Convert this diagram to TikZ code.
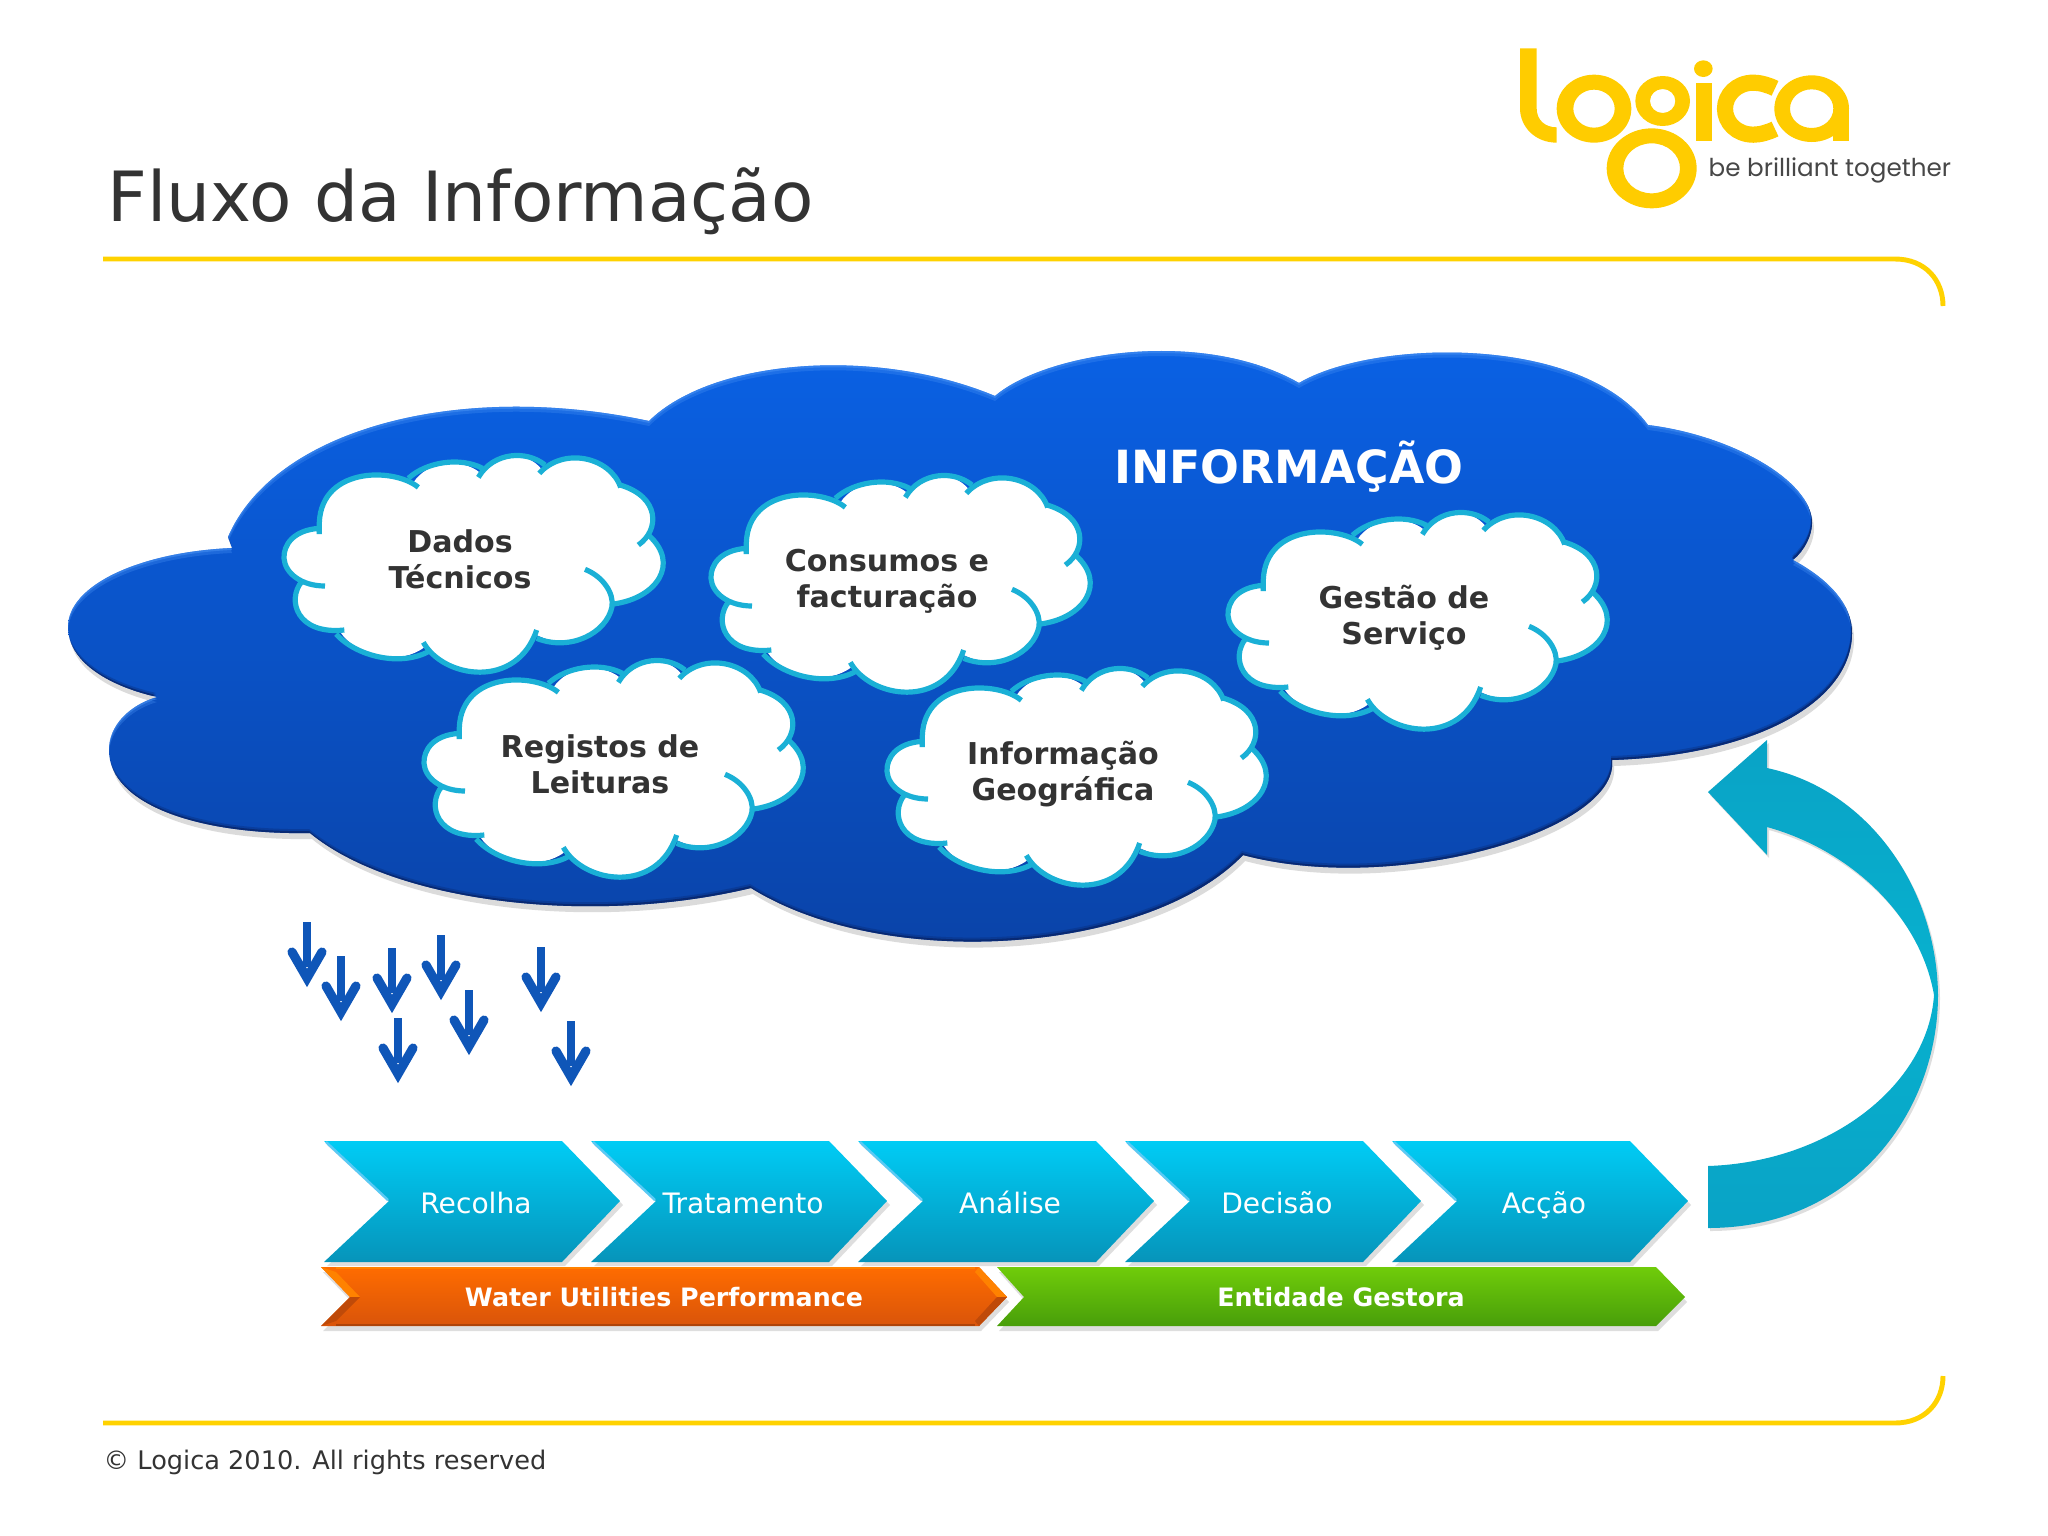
\documentclass[tikz,border=0pt]{standalone}
\usepackage{fontspec}
\setmainfont{DejaVu Sans}
\newfontfamily\logofont{Poppins}
\definecolor{logoyellow}{HTML}{FFCC00}
\definecolor{linkyellow}{HTML}{FFD200}
\definecolor{txtdark}{HTML}{333333}
\definecolor{cloudrim}{HTML}{1AB0D6}
\definecolor{arrowblue}{HTML}{0F56B8}
\definecolor{ribbon}{HTML}{09A3C6}
\definecolor{cloudtop}{HTML}{0A62E6}
\definecolor{cloudbottom}{HTML}{0A42A6}
\definecolor{cloudlight}{HTML}{4A94F5}
\definecolor{clouddark}{HTML}{082468}
\definecolor{stagetop}{HTML}{00CCF5}
\definecolor{stagebottom}{HTML}{0694BA}
\definecolor{orangetop}{HTML}{FF6C00}
\definecolor{orangebottom}{HTML}{D9540A}
\definecolor{greentop}{HTML}{70CC0A}
\definecolor{greenbottom}{HTML}{489E0A}
\newcommand{\bigcloudpath}{(228,537) .. controls (274,430) and (457,380) .. (649,421)
	.. controls (712,359) and (875,346) .. (995,396)
	.. controls (1045,353) and (1201,327) .. (1299,383)
	.. controls (1371,340) and (1580,333) .. (1648,425)
	.. controls (1730,435) and (1812,480) .. (1812,523) .. controls (1812,535) and (1805,550) .. (1793,560)
	.. controls (1830,580) and (1852,605) .. (1852,633) .. controls (1852,700) and (1760,755) .. (1612,760)
	.. controls (1620,830) and (1397,896) .. (1243,855)
	.. controls (1149,953) and (888,973) .. (751,888)
	.. controls (588,927) and (392,901) .. (310,833)
	.. controls (200,835) and (109,805) .. (109,750) .. controls (109,725) and (130,705) .. (157,697)
	.. controls (105,685) and (68,660) .. (68,627) .. controls (68,585) and (140,552) .. (232,548) -- cycle}
\newcommand{\stagepath}{(0,1141) -- (238,1141) -- (296,1201) -- (238,1262) -- (0,1262) -- (65,1201) -- cycle}
\newcommand{\orangepath}{(321,1267) -- (979,1267) -- (1007,1297) -- (979,1326) -- (321,1326) -- (350,1297) -- cycle}
\newcommand{\greenpath}{(997,1267) -- (1656,1267) -- (1685,1297) -- (1656,1326) -- (997,1326) -- (1024,1297) -- cycle}
\newcommand{\ribbonpath}{(1708,1166) .. controls (1830,1162) and (1928,1085) .. (1934,995) .. controls (1920,915) and (1850,850) .. (1767,827) -- (1767,855) -- (1708,792) -- (1767,740) -- (1767,768) .. controls (1870,790) and (1937,890) .. (1938,995) .. controls (1938,1110) and (1855,1228) .. (1708,1228) -- cycle}
\tikzset{
	titletext/.style={font=\fontsize{19.7}{23}\selectfont,text=txtdark,anchor=base west,inner sep=0pt},
	cloudtext/.style={font=\bfseries\fontsize{8.55}{10.2}\selectfont,text=txtdark,align=center,inner sep=0pt},
	stagetext/.style={font=\fontsize{8}{10}\selectfont,text=white,inner sep=0pt,anchor=base},
	bartext/.style={font=\bfseries\fontsize{7.2}{8}\selectfont,text=white,inner sep=0pt},
	softshadow/.style={fill=black,opacity=.13},
	goldline/.style={linkyellow,line width=1.4pt},
	downarrow/.pic={
		\draw[arrowblue,line width=2.3pt] (0,0) -- (0,45);
		\draw[arrowblue,line width=2.6pt,line cap=round,miter limit=10] (-15,30) -- (0,56) -- (15,30);
	},
	smallcloud/.pic={
		\begin{scope}[scale=1/3]
			\fill[white] (178,295) .. controls (100,300) and (70,345) .. (72,385) .. controls (75,420) and (100,445) .. (125,455)
				.. controls (80,510) and (110,615) .. (240,605) .. controls (290,680) and (420,710) .. (495,650)
				.. controls (550,745) and (770,780) .. (830,615) .. controls (930,665) and (1040,610) .. (1056,525)
				.. controls (1190,505) and (1262,400) .. (1165,315) .. controls (1200,250) and (1170,190) .. (1080,165)
				.. controls (1050,80) and (910,50) .. (845,118) .. controls (800,60) and (700,65) .. (660,128)
				.. controls (600,80) and (500,95) .. (460,158) .. controls (400,110) and (170,110) .. (178,295) -- cycle;
			\begin{scope}[draw=cloudrim,line width=5.2*0.2845pt]
				\draw (178,312) -- (178,295) .. controls (100,300) and (70,345) .. (72,385) .. controls (75,430) and (125,468) .. (195,468);
				\draw (125,455) .. controls (80,510) and (110,615) .. (253,600);
				\draw (228,612) .. controls (290,680) and (420,710) .. (505,665);
				\draw (490,637) .. controls (550,745) and (770,780) .. (830,600);
				\draw (975,418) .. controls (1030,440) and (1062,490) .. (1056,530) .. controls (1040,610) and (930,665) .. (830,625);
				\draw (1060,522) .. controls (1190,505) and (1262,400) .. (1165,315);
				\draw (1135,345) .. controls (1200,300) and (1200,200) .. (1080,165);
				\draw (1082,172) .. controls (1050,80) and (910,50) .. (838,130);
				\draw (855,105) .. controls (800,60) and (700,65) .. (655,142);
				\draw (668,115) .. controls (600,80) and (500,95) .. (445,145);
				\draw (475,172) .. controls (400,110) and (170,110) .. (178,295);
			\end{scope}
		\end{scope}
	}
}
\begin{document}
\begin{tikzpicture}[x=0.01cm,y=-0.01cm]
	\useasboundingbox (0,0) rectangle (2048,1536);
	\node[titletext] (title) at (107,221) {Fluxo da Informação};
	\draw[goldline] (103,259) -- (1895,259) .. controls (1925,259) and (1943,280) .. (1943,306);
	\draw[goldline] (103,1423) -- (1895,1423) .. controls (1925,1423) and (1943,1402) .. (1943,1376);
	\node[anchor=base west,inner sep=0pt,font=\fontsize{7.28}{9}\selectfont,text=txtdark] (copy) at (103,1469) {© Logica 2010. All rights reserved};
	\begin{scope}[shift={(1480,20)},scale=1/3]
		\fill[logoyellow] (120,85) -- (170,85) -- (170,265) .. controls (170,300) and (195,322) .. (230,322) -- (230,368) .. controls (165,368) and (120,320) .. (120,265) -- cycle;
		\fill[logoyellow,even odd rule] (342,266) ellipse[x radius=112,y radius=102] (342,266) ellipse[x radius=62,y radius=57];
		\fill[logoyellow,even odd rule] (548,243) ellipse[x radius=82,y radius=75] (548,243) ellipse[x radius=38,y radius=36];
		\fill[logoyellow,even odd rule] (515,445) ellipse[x radius=135,y radius=120] (515,445) ellipse[x radius=85,y radius=75];
		\fill[logoyellow] (648,190) rectangle (695,362);
		\fill[logoyellow] (670,146) ellipse[x radius=28,y radius=25];
		\draw[logoyellow,line width=4.6pt] (885,205) .. controls (865,195) and (840,188) .. (820,188) .. controls (770,188) and (735,225) .. (735,266) .. controls (735,308) and (770,344) .. (820,344) .. controls (840,344) and (865,337) .. (885,327);
		\fill[logoyellow,even odd rule] (995,266) ellipse[x radius=112,y radius=100] (995,266) ellipse[x radius=65,y radius=58];
		\fill[logoyellow] (1060,266) rectangle (1107,362);
	\end{scope}
	\node[anchor=base west,inner sep=0pt,font=\logofont\fontsize{7}{8}\selectfont,text=black!72] (slogan) at (1708,176) {be brilliant together};
	\fill[black,opacity=.14,shift={(2,6)}] \bigcloudpath;
	\shade[top color=cloudtop,bottom color=cloudbottom] \bigcloudpath;
	\begin{scope}
		\clip \bigcloudpath;
		\foreach \d/\o in {2/.5,5/.3}
			\fill[cloudlight,opacity=\o,even odd rule] (0,0) rectangle (2048,1536) [shift={(0,\d)}] \bigcloudpath;
		\foreach \d/\o in {-2/.75,-4/.3}
			\fill[clouddark,opacity=\o,even odd rule] (0,0) rectangle (2048,1536) [shift={(-1,\d)}] \bigcloudpath;
	\end{scope}
	\node[font=\bfseries\fontsize{13}{15}\selectfont,text=white,inner sep=0pt] (info) at (1289,467) {INFORMAÇÃO};
	\pic at (260,430) {smallcloud};
	\pic at (687,450) {smallcloud};
	\pic at (400,635) {smallcloud};
	\pic at (863,643) {smallcloud};
	\pic at (1204,487) {smallcloud};
	\node[cloudtext] (dados) at (460,559) {Dados\\Técnicos};
	\node[cloudtext] (consumos) at (887,581) {Consumos e\\facturação};
	\node[cloudtext] (registos) at (600,764) {Registos de\\Leituras};
	\node[cloudtext] (geo) at (1063,774) {Informação\\Geográfica};
	\node[cloudtext] (gestao) at (1404,618) {Gestão de\\Serviço};
	\foreach \x/\y in {307/922,341/956,392/948,441/935,469/990,398/1018,541/947,571/1021}
		\pic at (\x,\y) {downarrow};
	\foreach \x/\lbl/\nm in {324/Recolha/recolha,591/Tratamento/tratamento,858/Análise/analise,1125/Decisão/decisao,1392/Acção/accao} {
		\fill[softshadow,shift={(\x+3,4)}] \stagepath;
		\shade[top color=stagetop,bottom color=stagebottom,shift={(\x,0)}] \stagepath;
		\draw[white!35!cyan,line width=.7pt,shift={(\x,0)}] (2,1142) -- (64,1200);
		\node[stagetext] (\nm) at (\x+152,1213) {\lbl};
	}
	\fill[softshadow,shift={(2,5)}] \orangepath;
	\fill[softshadow,shift={(2,5)}] \greenpath;
	\shade[top color=greentop,bottom color=greenbottom] \greenpath;
	\shade[top color=orangetop,bottom color=orangebottom] \orangepath;
	\fill[orangetop!85!yellow] (979,1267) -- (1007,1297) -- (997,1297) -- (975,1272) -- cycle;
	\fill[orangebottom!88!black] (979,1326) -- (1007,1297) -- (997,1297) -- (975,1321) -- cycle;
	\fill[orangetop!85!yellow] (321,1267) -- (350,1297) -- (360,1297) -- (336,1272) -- cycle;
	\fill[orangebottom!88!black] (321,1326) -- (350,1297) -- (360,1297) -- (336,1321) -- cycle;
	\draw[orangetop!85!yellow,line width=.5pt] (336,1268) -- (975,1268);
	\draw[orangebottom!80!black,line width=.5pt] (336,1325) -- (975,1325);
	\node[bartext] (wup) at (664,1297) {Water Utilities Performance};
	\node[bartext] (entidade) at (1341,1297) {Entidade Gestora};
	\fill[black,opacity=.13,shift={(2,3)}] \ribbonpath;
	\shade[top color=ribbon,bottom color=ribbon,middle color=ribbon!85!cyan] \ribbonpath;
\end{tikzpicture}
\end{document}
